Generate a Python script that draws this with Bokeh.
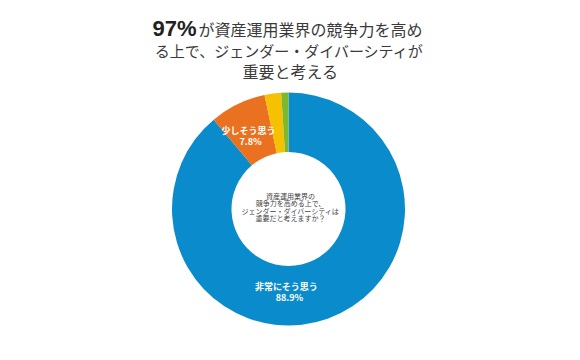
import numpy as np
from bokeh.plotting import figure
from bokeh.models import Range1d
from bokeh.core.properties import value
from bokeh.embed import file_html
from bokeh.resources import INLINE

# ---- data ----
categories = ["非常にそう思う", "少しそう思う", "どちらともいえない", "あまりそう思わない"]
shares = [88.9, 7.8, 2.3, 1.0]
colors = ["#0a8ccc", "#ea7120", "#f6c100", "#7cb830"]
shown_labels = ["非常にそう思う", "少しそう思う"]
shown_pcts = ["88.9%", "7.8%"]
title_lead = "97%"
title_lines = ["が資産運用業界の競争力を高め", "る上で、ジェンダー・ダイバーシティが", "重要と考える"]
center_lines = ["資産運用業界の", "競争力を高める上で、", "ジェンダー・ダイバーシティは", "重要だと考えますか？"]

W, H = 564, 344
p = figure(width=W, height=H, output_backend="svg", toolbar_location=None,
           x_range=Range1d(0, W), y_range=Range1d(360 - H, 360),
           min_border=0)
p.axis.visible = False
p.grid.visible = False
p.outline_line_color = None
p.background_fill_color = "white"

def Y(py):
    return 360 - py

cx, cy = 288, 208.5
r_out, r_in = 116.5, 57

frac = np.array(shares) / sum(shares)
cum = np.concatenate([[0], np.cumsum(frac)])
starts = np.pi / 2 - 2 * np.pi * cum[1:]
ends = np.pi / 2 - 2 * np.pi * cum[:-1]
p.annular_wedge(x=[cx] * len(shares), y=[Y(cy)] * len(shares),
                inner_radius=r_in, outer_radius=r_out,
                start_angle=list(starts), end_angle=list(ends),
                fill_color=colors, line_color=None)

font = value("Noto Sans CJK JP")

# title
p.text(x=[152], y=[Y(28)], text=[title_lead], text_font=value("Liberation Sans"),
       text_font_size="22px", text_font_style="bold", text_color="#222222",
       text_align="left", text_baseline="middle")
p.text(x=[198], y=[Y(28)], text=[title_lines[0]], text_font=font,
       text_font_size="16px", text_color="#3a3a3a",
       text_align="left", text_baseline="middle")
p.text(x=[289], y=[Y(50)], text=[title_lines[1]], text_font=font,
       text_font_size="15px", text_color="#3a3a3a",
       text_align="center", text_baseline="middle")
p.text(x=[290], y=[Y(70)], text=[title_lines[2]], text_font=font,
       text_font_size="16px", text_color="#3a3a3a",
       text_align="center", text_baseline="middle")

# center question
p.text(x=[290] * 4, y=[Y(195), Y(202.5), Y(210), Y(217.5)], text=center_lines,
       text_font=font, text_font_size="7px", text_color="#444444",
       text_align="center", text_baseline="middle")

# slice labels
p.text(x=[286, 248], y=[Y(286), Y(130)], text=shown_labels, text_font=font,
       text_font_size="9px", text_font_style="bold", text_color="white",
       text_align="center", text_baseline="middle")
p.text(x=[289, 250], y=[Y(297), Y(141)], text=shown_pcts, text_font=font,
       text_font_size="9px", text_font_style="bold", text_color="white",
       text_align="center", text_baseline="middle")

open("out.html", "w").write(file_html(p, INLINE))
